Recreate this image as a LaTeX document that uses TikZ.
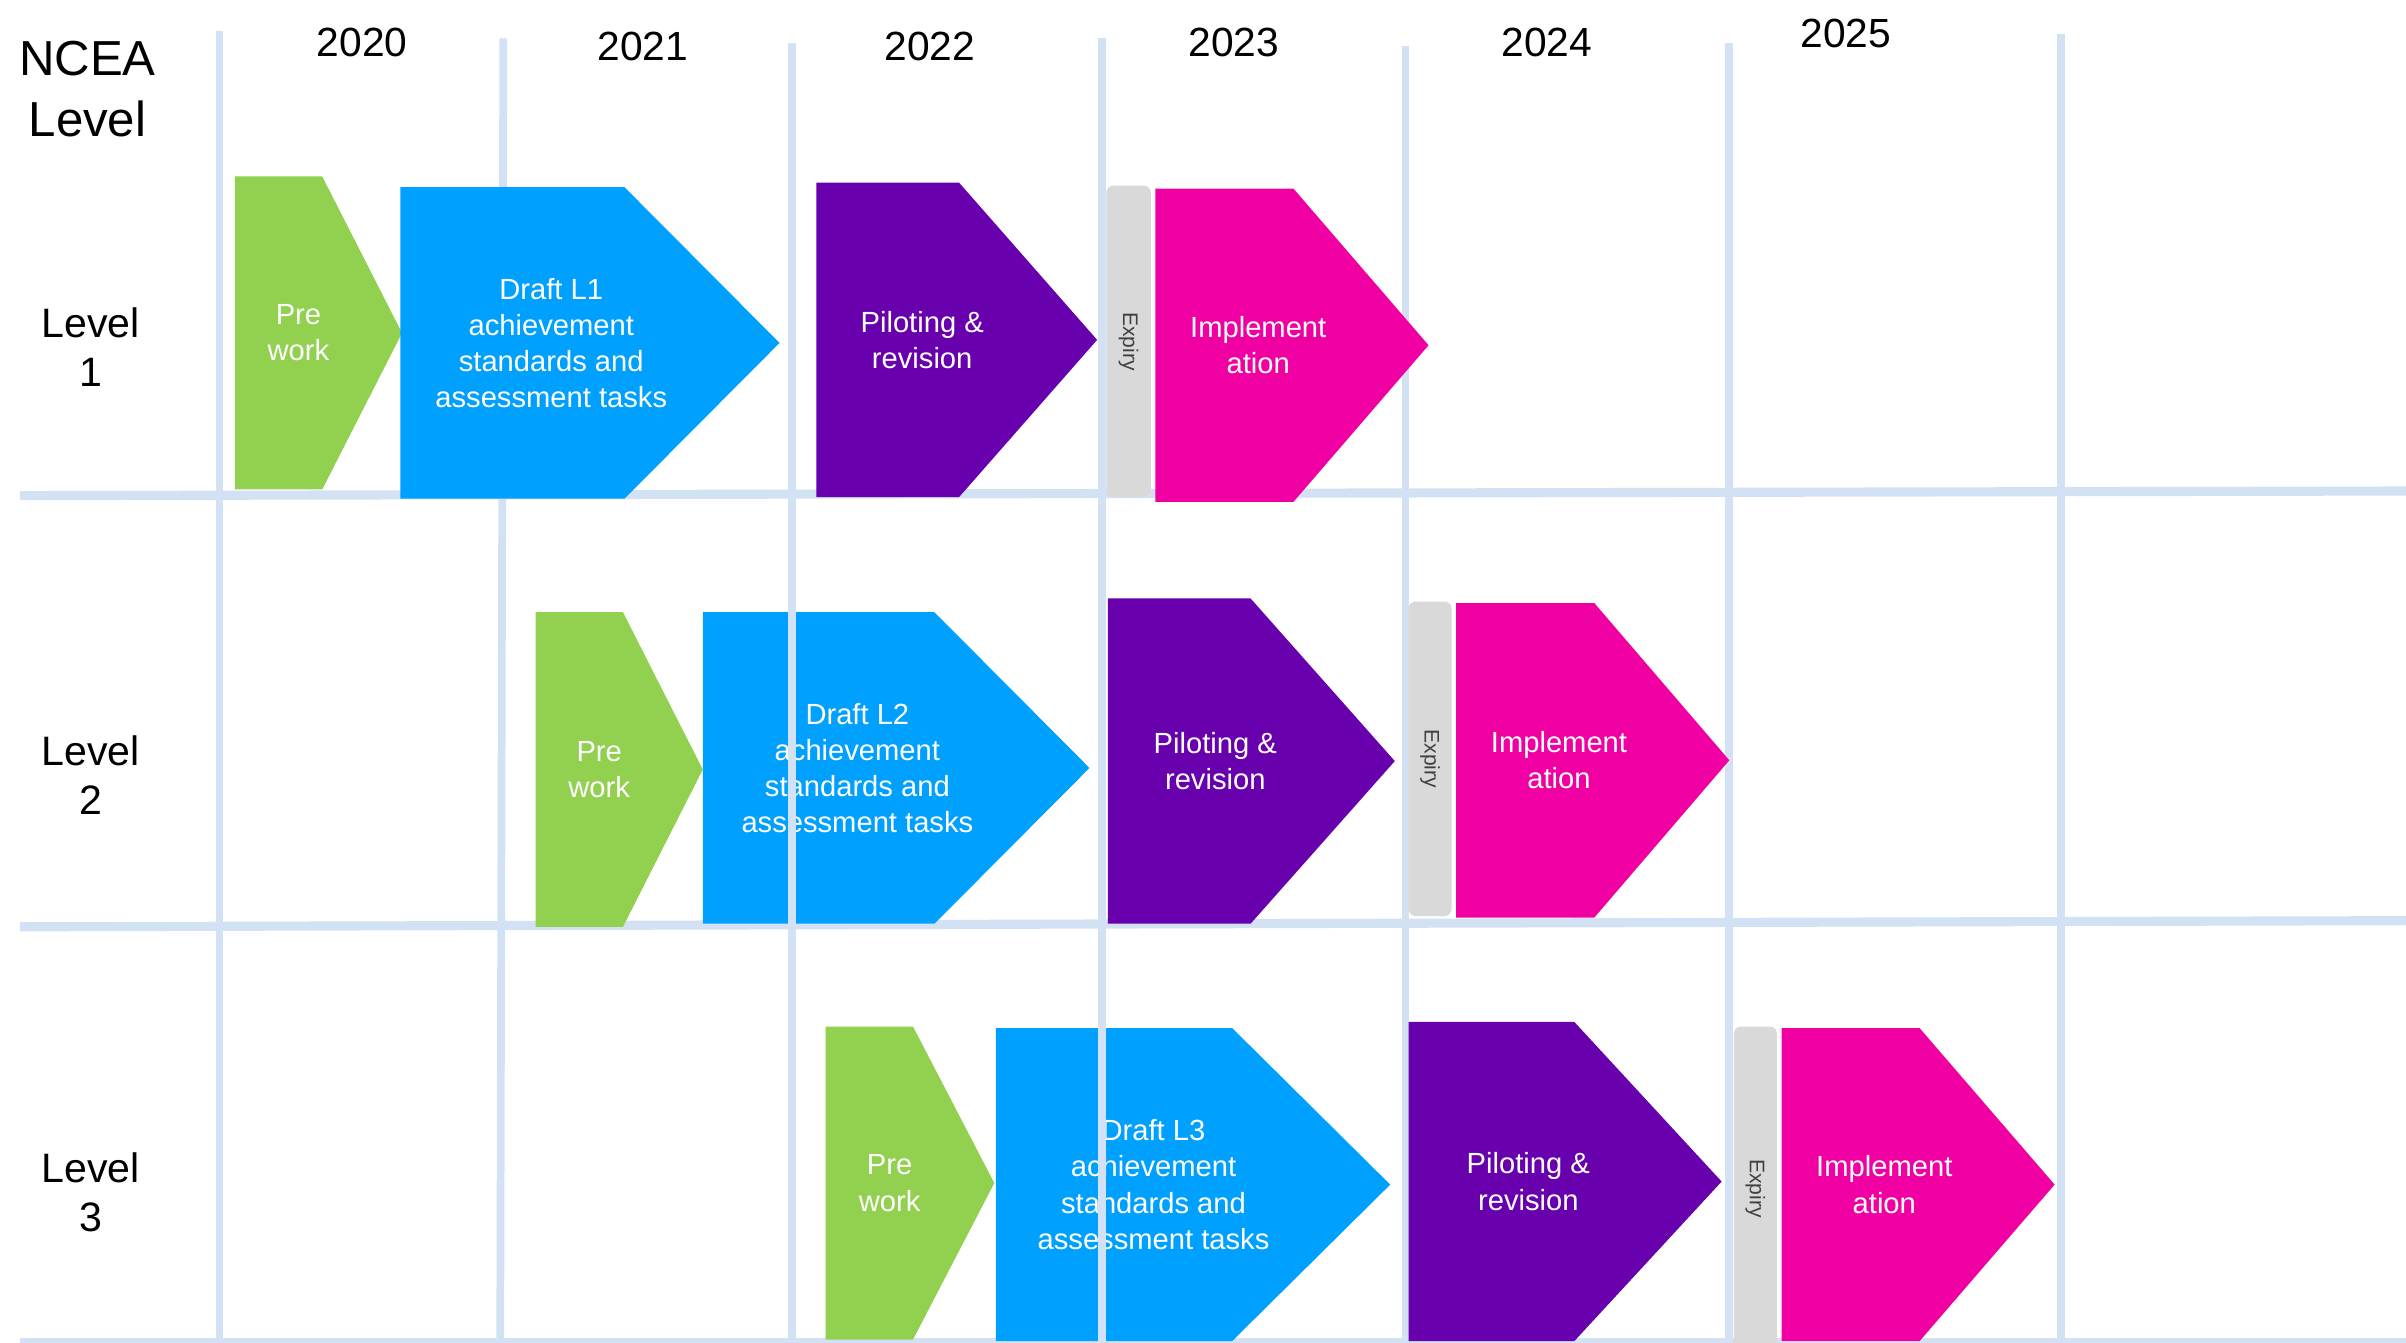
\documentclass[tikz,border=0pt]{standalone}
\usepackage{fontspec}
\setmainfont{Liberation Sans}
\definecolor{gridblue}{HTML}{D2E2F4}
\definecolor{pgreen}{HTML}{92D050}
\definecolor{pblue}{HTML}{00A0FE}
\definecolor{ppurple}{HTML}{6800AE}
\definecolor{ppink}{HTML}{F000A2}
\definecolor{boxgray}{HTML}{D9D9D9}
\definecolor{expgray}{HTML}{404040}
% #1 colour, #2 left, #3 top, #4 shoulder x, #5 tip x, #6 bottom, #7 name, #8 text
\newcommand\chevronshape[8]{%
  \fill[#1] (#2,#3) -- (#4,#3) -- (#5,{(#3+#6)/2}) -- (#4,#6) -- (#2,#6) -- cycle;
  \node[shapetext] (#7) at ({(2*#2+#4+#5)/4},{(#3+#6)/2}) {#8};
}
% #1 left, #2 right, #3 top, #4 bottom, #5 name
\newcommand\expirybar[5]{%
  \fill[expirybox] (#1,#3) rectangle (#2,#4);
  \node[expirytext] (#5) at ({(#1+#2)/2},{(#3+#4)/2}) {Expiry};
}
\begin{document}
\begin{tikzpicture}[x=0.015345cm,y=-0.015345cm,
  grid/.style={draw=gridblue, line width=2.2pt},
  hgrid/.style={draw=gridblue, line width=2.6pt},
  shapetext/.style={text=white, font=\fontsize{8.3}{10.3}\selectfont, align=center, inner sep=0pt},
  yearlabel/.style={font=\fontsize{11.6}{14}\selectfont, inner sep=0pt},
  levellabel/.style={font=\fontsize{11.7}{14}\selectfont, align=center, inner sep=0pt},
  headlabel/.style={font=\fontsize{14}{17.5}\selectfont, align=center, inner sep=0pt},
  expirytext/.style={text=expgray, font=\fontsize{6}{7}\selectfont, rotate=-90, inner sep=0pt},
  expirybox/.style={fill=boxgray, rounded corners=2pt}]

\useasboundingbox (0,0) rectangle (1568,875);
\fill[white] (0,0) rectangle (1568,875);

% grid
\draw[grid] (143,20) -- (143,875);
\draw[grid] (328,25) -- (326,875);
\draw[grid] (516,28) -- (516,875);
\draw[grid] (718,25) -- (718,875);
\draw[grid] (916,30) -- (916,875);
\draw[grid] (1127,28) -- (1127,875);
\draw[grid] (1343,22) -- (1343,875);
\draw[hgrid] (13,323) -- (1568,320);
\draw[hgrid] (13,604) -- (1568,600);
\draw[hgrid] (13,875) -- (1568,875);

% labels
\node[headlabel] (head) at (57,58) {NCEA\\Level};
\node[levellabel] (lev1) at (59,226) {Level\\1};
\node[levellabel] (lev2) at (59,505) {Level\\2};
\node[levellabel] (lev3) at (59,777) {Level\\3};
\node[yearlabel] (y2020) at (236,28) {2020};
\node[yearlabel] (y2021) at (419,30) {2021};
\node[yearlabel] (y2022) at (606,30) {2022};
\node[yearlabel] (y2023) at (804,28) {2023};
\node[yearlabel] (y2024) at (1008,28) {2024};
\node[yearlabel] (y2025) at (1203,22) {2025};

% Level 1
\chevronshape{pgreen}{153}{115}{210}{262}{319}{pre1}{Pre\\work}
\chevronshape{pblue}{261}{122}{407}{508}{325}{draft1}{Draft L1\\achievement\\standards and\\assessment tasks}
\chevronshape{ppurple}{532}{119}{625}{715}{324}{pilot1}{Piloting \&\\revision}
\expirybar{721}{750}{121}{324}{exp1}
\chevronshape{ppink}{753}{123}{843}{931}{327}{impl1}{Implement\\ation}

% Level 2
\chevronshape{pgreen}{349}{399}{406}{458}{604}{pre2}{Pre\\work}
\chevronshape{pblue}{458}{399}{609}{710}{602}{draft2}{Draft L2\\achievement\\standards and\\assessment tasks}
\chevronshape{ppurple}{722}{390}{815}{909}{602}{pilot2}{Piloting \&\\revision}
\expirybar{918}{946}{392}{597}{exp2}
\chevronshape{ppink}{949}{393}{1039}{1127}{598}{impl2}{Implement\\ation}

% Level 3
\chevronshape{pgreen}{538}{669}{595}{648}{873}{pre3}{Pre\\work}
\chevronshape{pblue}{649}{670}{803}{906}{874}{draft3}{Draft L3\\achievement\\standards and\\assessment tasks}
\chevronshape{ppurple}{918}{666}{1026}{1122}{874}{pilot3}{Piloting \&\\revision}
\expirybar{1130}{1158}{669}{880}{exp3}
\chevronshape{ppink}{1161}{670}{1251}{1339}{874}{impl3}{Implement\\ation}

% grid lines that lie over the draft shapes
\draw[grid] (516,399) -- (516,602);
\draw[grid] (718,670) -- (718,875);
\end{tikzpicture}
\end{document}
